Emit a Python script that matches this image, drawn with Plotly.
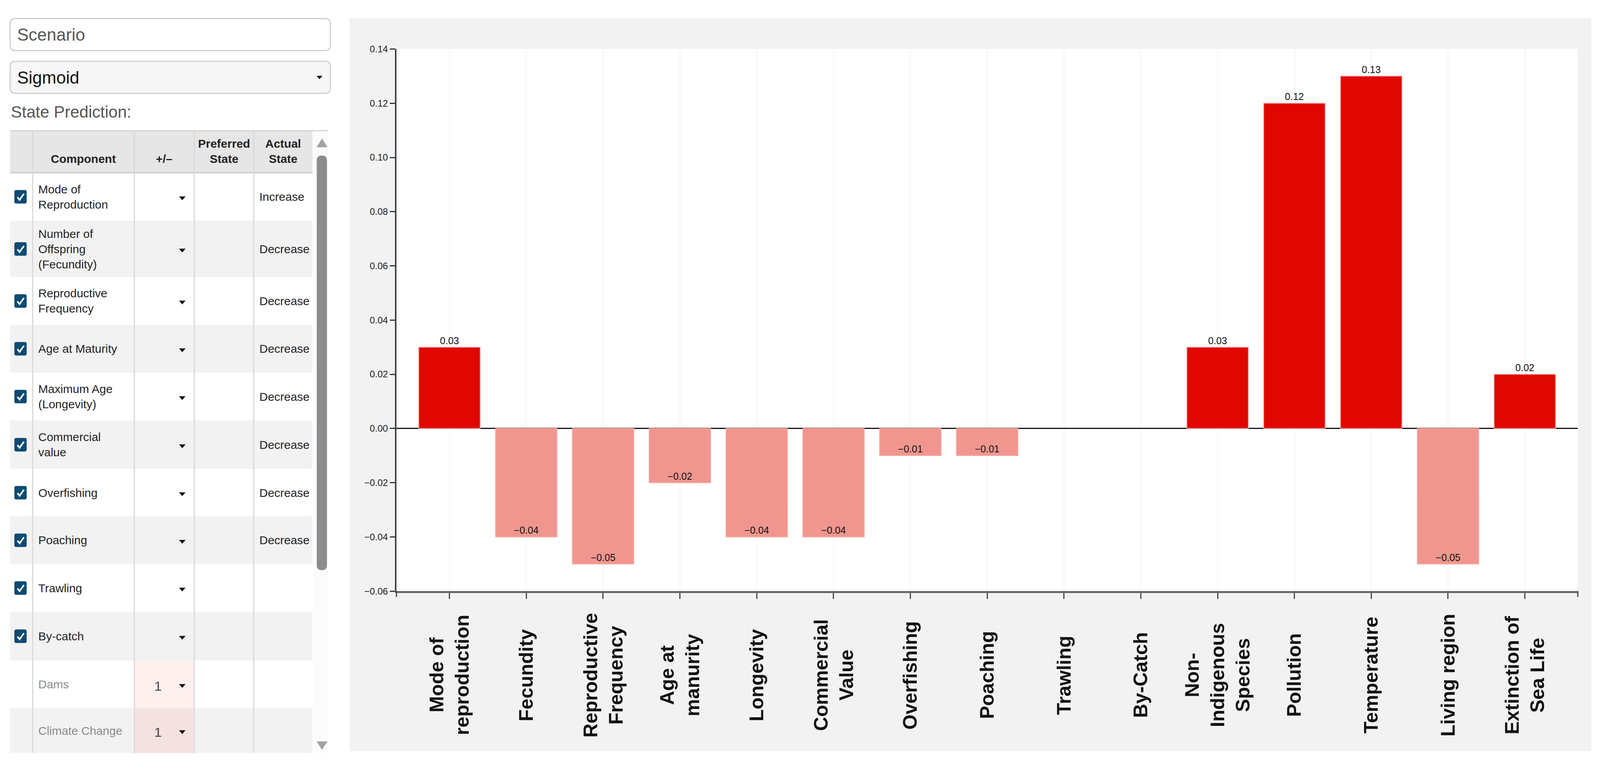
import plotly.graph_objects as go

# ---------------- data ----------------
categories = ["Mode of reproduction", "Fecundity", "Reproductive Frequency", "Age at manurity",
              "Longevity", "Commercial Value", "Overfishing", "Poaching", "Trawling", "By-Catch",
              "Non-Indigenous Species", "Pollution", "Temperature", "Living region",
              "Extinction of Sea Life"]
category_labels = ["Mode of<br>reproduction", "Fecundity", "Reproductive<br>Frequency",
                   "Age at<br>manurity", "Longevity", "Commercial<br>Value", "Overfishing",
                   "Poaching", "Trawling", "By-Catch", "Non-<br>Indigenous<br>Species",
                   "Pollution", "Temperature", "Living region", "Extinction of<br>Sea Life"]
values = [0.03, -0.04, -0.05, -0.02, -0.04, -0.04, -0.01, -0.01, 0.0, 0.0,
          0.03, 0.12, 0.13, -0.05, 0.02]
y_ticks = [-0.06, -0.04, -0.02, 0.0, 0.02, 0.04, 0.06, 0.08, 0.10, 0.12, 0.14]

table_components = ["Mode of<br>Reproduction", "Number of<br>Offspring<br>(Fecundity)",
                    "Reproductive<br>Frequency", "Age at Maturity", "Maximum Age<br>(Longevity)",
                    "Commercial<br>value", "Overfishing", "Poaching", "Trawling", "By-catch",
                    "Dams", "Climate Change"]
table_checked = [True, True, True, True, True, True, True, True, True, True, False, False]
table_plusminus = ["", "", "", "", "", "", "", "", "", "", "1", "1"]
table_actual = ["Increase", "Decrease", "Decrease", "Decrease", "Decrease", "Decrease",
                "Decrease", "Decrease", "", "", "", ""]
table_headers = ["Component", "+/\u2013", "Preferred<br>State", "Actual<br>State"]
scenario_text = "Scenario"
function_text = "Sigmoid"
section_title = "State Prediction:"

# ---------------- geometry helpers (reference pixel grid -> paper) ----------------
W, H = 4407, 1971


def px(x):
    return x / W


def py(y):
    return 1 - y / H


shapes = []
annotations = []


def rect(x0, y0, x1, y1, fill, line=None, lw=0, layer="below"):
    shapes.append(dict(type="rect", xref="paper", yref="paper",
                       x0=px(x0), x1=px(x1), y0=py(y1), y1=py(y0),
                       fillcolor=fill, line=dict(color=line or fill, width=lw),
                       layer=layer))


def line(x0, y0, x1, y1, color, lw, layer="above"):
    shapes.append(dict(type="line", xref="paper", yref="paper",
                       x0=px(x0), x1=px(x1), y0=py(y0), y1=py(y1),
                       line=dict(color=color, width=lw), layer=layer))


def path(pts, fill=None, color=None, lw=0, closed=True, layer="above"):
    d = "M " + " L ".join(f"{px(x):.6f},{py(y):.6f}" for x, y in pts)
    if closed:
        d += " Z"
    shapes.append(dict(type="path", xref="paper", yref="paper", path=d,
                       fillcolor=fill if fill else "rgba(0,0,0,0)",
                       line=dict(color=color or "rgba(0,0,0,0)", width=lw), layer=layer))


def rrect(x0, y0, x1, y1, r, fill, color, lw, layer="above"):
    def P(x, y):
        return f"{px(x):.6f},{py(y):.6f}"
    d = (f"M {P(x0 + r, y0)} L {P(x1 - r, y0)} Q {P(x1, y0)} {P(x1, y0 + r)} "
         f"L {P(x1, y1 - r)} Q {P(x1, y1)} {P(x1 - r, y1)} L {P(x0 + r, y1)} "
         f"Q {P(x0, y1)} {P(x0, y1 - r)} L {P(x0, y0 + r)} Q {P(x0, y0)} {P(x0 + r, y0)} Z")
    shapes.append(dict(type="path", xref="paper", yref="paper", path=d,
                       fillcolor=fill, line=dict(color=color, width=lw), layer=layer))


def text(x, y, s, size, color="#222", xanchor="left", bold=False, family="Arial"):
    annotations.append(dict(xref="paper", yref="paper", x=px(x), y=py(y),
                            text=f"<b>{s}</b>" if bold else s, showarrow=False,
                            xanchor=xanchor, yanchor="middle",
                            align=xanchor if xanchor != "center" else "center",
                            font=dict(family=family, size=size, color=color)))


def caret(x, y, s=9, color="#111"):
    path([(x - s, y - s * 0.55), (x + s, y - s * 0.55), (x, y + s * 0.55)], fill=color)


# ---------------- left panel ----------------
rrect(28, 34, 910, 117, 14, "#ffffff", "#cfcfcf", 3)
text(45, 76, scenario_text, 44, "#555")
rrect(28, 145, 910, 228, 14, "#f7f7f7", "#cfcfcf", 3)
text(45, 187, function_text, 44, "#111")
caret(880, 187, 8)
text(28, 276, section_title, 42, "#555")

col_x = [28, 90, 370, 535, 699, 861]
row_y = [434, 559, 705, 829, 953, 1077, 1203, 1326, 1450, 1574, 1700, 1824, 1940]
head_y0 = 325

rect(col_x[0], head_y0, col_x[-1], row_y[0], "#e6e6e6", layer="above")
header_centers = [(col_x[1] + col_x[2]) / 2, (col_x[2] + col_x[3]) / 2,
                  (col_x[3] + col_x[4]) / 2, (col_x[4] + col_x[5]) / 2]
for i, h in enumerate(table_headers):
    yy = 398 if "<br>" not in h else 378
    text(header_centers[i], yy, h, 30, "#222", xanchor="center", bold=True)

for i, comp in enumerate(table_components):
    y0, y1 = row_y[i], row_y[i + 1]
    yc = (y0 + y1) / 2
    bg = "#f2f2f2" if i % 2 == 1 else "#ffffff"
    rect(col_x[0], y0, col_x[-1], y1, bg, layer="above")
    if table_plusminus[i]:
        rect(col_x[2], y0, col_x[3], y1, "#fdf0ef" if i % 2 == 0 else "#f4e2e1", layer="above")
        text(435, yc + 4, table_plusminus[i], 34, "#444", xanchor="center")
    if table_checked[i]:
        rrect(40, yc - 17, 73, yc + 17, 4, "#0e4a72", "#0e4a72", 1)
        path([(48, yc + 1), (54, yc + 8), (66, yc - 8)], color="#ffffff", lw=4, closed=False)
    text(103, yc, comp, 30, "#222" if table_checked[i] else "#8a8a8a")
    caret(502, yc + 4, 9)
    if table_actual[i]:
        text(712, yc, table_actual[i], 30, "#222")

line(col_x[0], head_y0, 903, head_y0, "#d5d5d5", 3)
line(col_x[0], row_y[0], col_x[-1], row_y[0], "#cfcfcf", 4)
for cx in col_x[1:5]:
    line(cx, head_y0, cx, row_y[-1], "#d9d9d9", 3)

rect(864, head_y0 + 2, 905, row_y[-1], "#fbfbfb", layer="above")
path([(872, 368), (902, 368), (887, 345)], fill="#a3a3a3")
rrect(873, 390, 900, 1465, 12, "#8c8c8c", "#8c8c8c", 1)
path([(872, 1910), (902, 1910), (887, 1932)], fill="#a3a3a3")

# ---------------- chart panel ----------------
PL, PR, PT, PB = 1092, 4346, 113, 1520
rect(963, 33, 4383, 1935, "#f2f2f2", layer="below")
rect(PL, PT, PR, PB, "#ffffff", layer="below")

pos_color, neg_color = "#e00700", "#f1968f"
bar_colors = [pos_color if v > 0 else neg_color for v in values]
bar_line_w = [0 if v == 0 else 2 for v in values]
bar_text = ["" if v == 0 else f"{v:.2f}".replace("-", "\u2212") for v in values]
bar_pos = ["outside" if v > 0 else "inside" for v in values]

fig = go.Figure(go.Bar(
    x=categories, y=values, width=0.8,
    marker=dict(color=bar_colors, line=dict(color="#f5aaa4", width=bar_line_w)),
    text=bar_text, textposition=bar_pos, insidetextanchor="end",
    textfont=dict(family="Arial", size=25, color="#111"),
    constraintext="none", cliponaxis=False, hoverinfo="x+y",
))

for cat, lab in zip(categories, category_labels):
    annotations.append(dict(xref="x", yref="paper", x=cat, y=py(1738), text=f"<b>{lab}</b>",
                            textangle=-90, showarrow=False, xanchor="center", yanchor="middle",
                            align="center", font=dict(family="Arial", size=50, color="#111")))

for xd in (0, 1):
    shapes.append(dict(type="line", xref="x domain", yref="paper", x0=xd, x1=xd,
                       y0=py(PB), y1=py(PB + 15), line=dict(color="#444", width=3)))

fig.update_layout(
    autosize=True, margin=dict(l=0, r=0, t=0, b=0),
    paper_bgcolor="#ffffff", plot_bgcolor="#ffffff",
    showlegend=False, shapes=shapes, annotations=annotations,
    xaxis=dict(domain=[px(PL), px(PR)], type="category", range=[-0.69, 14.69],
               showticklabels=False, ticks="outside", ticklen=15, tickwidth=3, tickcolor="#444",
               showgrid=True, gridcolor="#f3f3f3", gridwidth=2,
               showline=True, linecolor="#666", linewidth=5, fixedrange=True),
    yaxis=dict(domain=[py(PB), py(PT)], range=[-0.06, 0.14], tickvals=y_ticks,
               tickformat=".2f", ticks="outside", ticklen=13, tickwidth=3, tickcolor="#333",
               tickfont=dict(family="Arial", size=24, color="#222"),
               showgrid=False, zeroline=True, zerolinecolor="#111", zerolinewidth=3,
               showline=True, linecolor="#444", linewidth=4, fixedrange=True),
)

# fill the browser viewport exactly (no body margin, no scrollbars)
post = """
document.documentElement.style.margin='0';
document.body.style.margin='0';
document.body.style.overflow='hidden';
var gd = document.getElementById('{plot_id}');
Plotly.relayout(gd, {width: window.innerWidth, height: window.innerHeight});
"""

fig.write_html("out.html", default_width="100vw", default_height="100vh",
               post_script=post, config={"displayModeBar": False})
